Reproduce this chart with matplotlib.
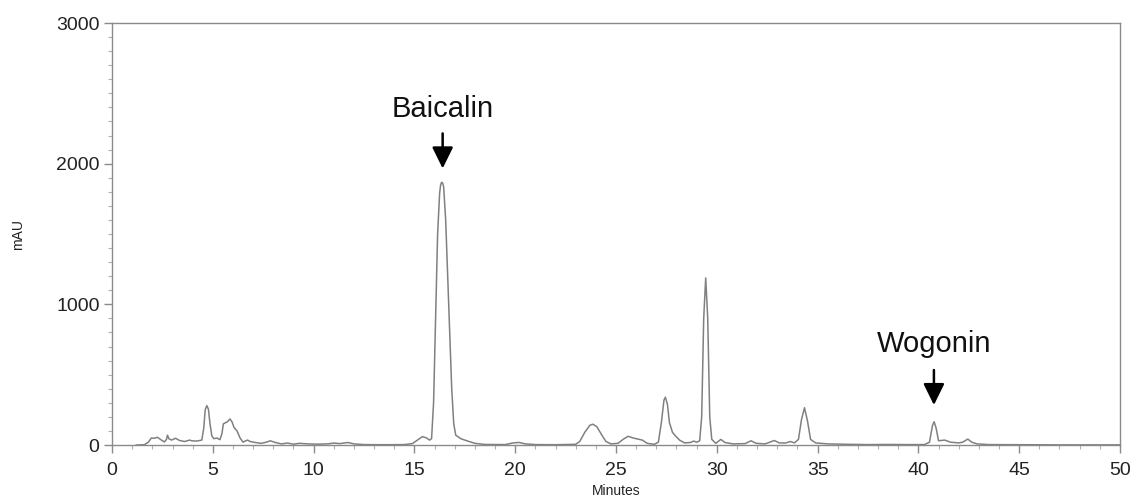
import matplotlib.pyplot as plt
from matplotlib.ticker import MultipleLocator

# chromatogram trace (minutes, mAU)
minutes = [1.2, 1.6, 1.8, 1.95, 2.1, 2.25, 2.45, 2.6, 2.7, 2.75, 2.82, 2.95, 3.15, 3.35, 3.6,
           3.85, 3.95, 4.2, 4.45, 4.55, 4.62, 4.70, 4.78, 4.86, 4.95, 5.05, 5.2, 5.35, 5.45,
           5.52, 5.62, 5.72, 5.85, 5.95, 6.05, 6.2, 6.35, 6.5, 6.6, 6.72, 6.85, 7.1, 7.4, 7.65,
           7.85, 8.1, 8.4, 8.7, 9.0, 9.3, 9.7, 10.2, 10.7, 11.0, 11.3, 11.7, 12.0, 12.5, 13.5,
           14.5, 14.9, 15.15, 15.4, 15.6, 15.75, 15.85, 15.95, 16.05, 16.15, 16.25, 16.3,
           16.35, 16.4, 16.45, 16.55, 16.65, 16.75, 16.85, 16.95, 17.05, 17.3, 17.6, 18.0,
           18.5, 19.5, 19.9, 20.2, 20.5, 21.0, 22.0, 23.0, 23.2, 23.45, 23.7, 23.85, 24.05,
           24.3, 24.5, 24.75, 25.1, 25.35, 25.6, 25.85, 26.1, 26.3, 26.55, 26.9, 27.1, 27.25,
           27.38, 27.45, 27.55, 27.65, 27.8, 27.95, 28.15, 28.4, 28.7, 28.85, 29.0, 29.15,
           29.25, 29.35, 29.45, 29.55, 29.65, 29.75, 29.95, 30.2, 30.4, 30.8, 31.4, 31.7,
           31.95, 32.4, 32.85, 33.1, 33.4, 33.65, 33.85, 34.05, 34.2, 34.35, 34.5, 34.65,
           34.9, 35.5, 36.5, 37.5, 38.5, 39.5, 40.3, 40.55, 40.7, 40.78, 40.88, 41.0, 41.3,
           41.6, 42.0, 42.2, 42.45, 42.65, 42.9, 43.5, 45.0, 47.0, 50.0]
mau = [0, 2, 20, 50, 48, 55, 35, 22, 40, 70, 45, 35, 48, 32, 25,
       35, 30, 28, 35, 120, 250, 280, 255, 150, 65, 45, 50, 38, 80,
       150, 158, 165, 185, 165, 125, 100, 50, 20, 28, 35, 25, 18, 12, 20,
       30, 18, 8, 14, 6, 12, 8, 6, 8, 14, 10, 18, 8, 3, 2,
       3, 10, 35, 60, 50, 35, 45, 300, 900, 1500, 1790, 1850,
       1868, 1862, 1835, 1600, 1200, 800, 400, 150, 70, 45, 30, 12,
       4, 3, 15, 18, 8, 3, 2, 5, 25, 90, 140, 148, 130,
       70, 25, 8, 12, 40, 62, 50, 42, 35, 12, 5, 20, 160,
       320, 340, 290, 160, 90, 65, 35, 15, 18, 28, 20, 30,
       200, 900, 1188, 900, 200, 40, 12, 40, 18, 8, 10, 30,
       12, 8, 32, 15, 14, 25, 15, 40, 180, 265, 170, 40,
       15, 8, 5, 3, 4, 3, 3, 20, 140, 165, 120, 30, 35,
       20, 15, 20, 42, 20, 8, 3, 2, 1, 1]

peak_names = ['Baicalin', 'Wogonin']
peak_times = [16.4, 40.77]
arrow_tip = [1966, 284]
arrow_tail = [2215, 533]
label_base = [2333, 661]

plt.rcParams['font.family'] = ['Liberation Sans', 'DejaVu Sans']

fig = plt.figure(figsize=(11.33, 4.97), dpi=100)
ax = fig.add_axes([0.0989, 0.1046, 0.8896, 0.8491])

ax.plot(minutes, mau, color='#808080', lw=1.1)

for name, t, tip, tail, yb in zip(peak_names, peak_times, arrow_tip, arrow_tail, label_base):
    ax.annotate('', xy=(t, tip), xytext=(t, tail),
                arrowprops=dict(arrowstyle='-|>,head_length=0.65,head_width=0.32',
                                mutation_scale=20, lw=1.8, color='black',
                                shrinkA=0, shrinkB=0))
    ax.text(t, yb, name, fontsize=21, ha='center', va='baseline', color='#111111')

ax.set_xlim(0, 50)
ax.set_ylim(0, 3000)
ax.xaxis.set_major_locator(MultipleLocator(5))
ax.xaxis.set_minor_locator(MultipleLocator(1))
ax.yaxis.set_major_locator(MultipleLocator(1000))
ax.yaxis.set_minor_locator(MultipleLocator(100))

for s in ax.spines.values():
    s.set_color('#8a8a8a')
    s.set_linewidth(1.0)
ax.tick_params(which='major', length=6, width=1, color='#8a8a8a', labelsize=14,
               labelcolor='#222222')
ax.tick_params(which='minor', length=3, width=0.8, color='#b0b0b0')
ax.tick_params(axis='x', which='major', pad=6)
ax.tick_params(axis='y', which='major', pad=3)

ax.set_xlabel('Minutes', fontsize=10, color='#222222')
ax.xaxis.set_label_coords(0.5, -0.092)
ax.set_ylabel('mAU', fontsize=10, color='#222222')
ax.yaxis.set_label_coords(-0.0933, 0.5)
ax.yaxis.label.set_va('center')

fig.savefig('out.png', dpi=100)
